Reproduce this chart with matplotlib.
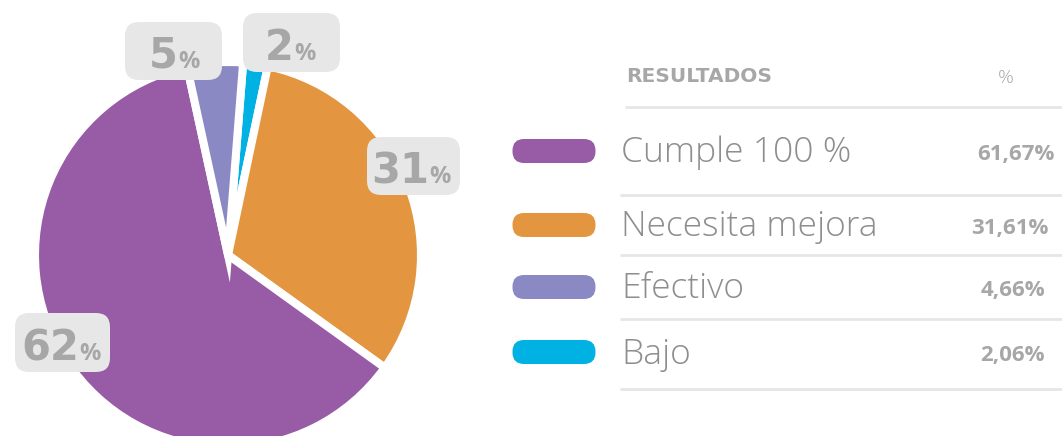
import matplotlib

matplotlib.use("Agg")

import matplotlib.pyplot as plt
from matplotlib.patches import FancyBboxPatch

# results table, in display order
CATEGORIES = ["Cumple 100 %", "Necesita mejora", "Efectivo", "Bajo"]
PERCENTS = [61.67, 31.61, 4.66, 2.06]
COLORS = ["#985BA5", "#E3963F", "#8A89C4", "#00B1E4"]

# wedges go clockwise starting with the smallest slice
PIE_ORDER = [3, 1, 0, 2]

W, H = 1062, 436
TEXT_GREY = "#A7A7A7"
LABEL_GREY = "#8E8E8E"
LINE_GREY = "#E6E6E6"
BOX_GREY = "#E7E7E7"
FONT = "Open Sans"
WIDE = "DejaVu Sans"

# rounded-box callouts: (box left, top, right, bottom, split x, baseline), image px
CALLOUTS = {
    0: (15, 313, 110, 372, 79, 360),
    1: (367, 137, 460, 195, 429, 183),
    2: (125, 22, 222, 80, 178, 68),
    3: (243, 13, 340, 72, 294, 60),
}

ROW_Y = [151, 225, 287, 352]
VALUE_RIGHT = [1055, 1048, 1045, 1045]
RULES_Y = [107, 195, 255, 319, 389]


def fy(y):
    return H - y


def whole_percents(values):
    # largest-remainder rounding so the callouts add up to 100
    floors = [int(v) for v in values]
    short = 100 - sum(floors)
    order = sorted(range(len(values)), key=lambda i: values[i] - floors[i], reverse=True)
    for i in order[:short]:
        floors[i] += 1
    return floors


def main():
    fig = plt.figure(figsize=(W / 100, H / 100), dpi=100)
    ax = fig.add_axes([0, 0, 1, 1])
    ax.set_axis_off()

    ax.pie(
        [PERCENTS[i] for i in PIE_ORDER],
        colors=[COLORS[i] for i in PIE_ORDER],
        startangle=85.5,
        counterclock=False,
        center=(228, fy(255)),
        radius=193,
        wedgeprops={"edgecolor": "white", "linewidth": 5.8},
        frame=True,
    )
    ax.set_xlim(0, W)
    ax.set_ylim(0, H)
    ax.set_aspect("auto")
    ax.set_axis_off()

    rounded = whole_percents(PERCENTS)
    for i, (x0, y0, x1, y1, xs, yb) in CALLOUTS.items():
        ax.add_patch(
            FancyBboxPatch(
                (x0 + 14, fy(y1) + 14),
                (x1 - x0) - 28,
                (y1 - y0) - 28,
                boxstyle="round,pad=14",
                facecolor=BOX_GREY,
                edgecolor="none",
                zorder=5,
            )
        )
        ax.text(xs, fy(yb), f"{rounded[i]}", fontsize=30, family=WIDE,
                fontweight="bold", color=TEXT_GREY, ha="right", va="baseline", zorder=6)
        ax.text(xs, fy(yb), "%", fontsize=17, family=FONT,
                fontweight="bold", color=TEXT_GREY, ha="left", va="baseline", zorder=6)

    # table header
    ax.text(626, fy(82), "RESULTADOS", fontsize=14.5, family=WIDE, fontweight="bold",
            color=TEXT_GREY, ha="left", va="baseline")
    ax.text(1006, fy(83), "%", fontsize=14, family=FONT, fontweight="light",
            color=TEXT_GREY, ha="center", va="baseline")

    for k, y in enumerate(RULES_Y):
        x0 = 625 if k == 0 else 620
        ax.plot([x0, W], [fy(y), fy(y)], color=LINE_GREY, lw=2, solid_capstyle="butt")

    for i, label in enumerate(CATEGORIES):
        y = ROW_Y[i]
        ax.add_patch(
            FancyBboxPatch(
                (512 + 12, fy(y) - 0.5),
                84 - 24,
                1,
                boxstyle="round,pad=11.5",
                facecolor=COLORS[i],
                edgecolor="none",
            )
        )
        ax.text(621, fy(y + 11.5), label, fontsize=25.5, family=FONT, fontweight="light",
                color=LABEL_GREY, ha="left", va="baseline")
        value = f"{PERCENTS[i]:.2f}".replace(".", ",") + "%"
        ax.text(VALUE_RIGHT[i], fy(y + 9), value, fontsize=16, family=FONT,
                fontweight="bold", color=TEXT_GREY, ha="right", va="baseline")

    fig.savefig("out.png", dpi=100)


if __name__ == "__main__":
    main()
